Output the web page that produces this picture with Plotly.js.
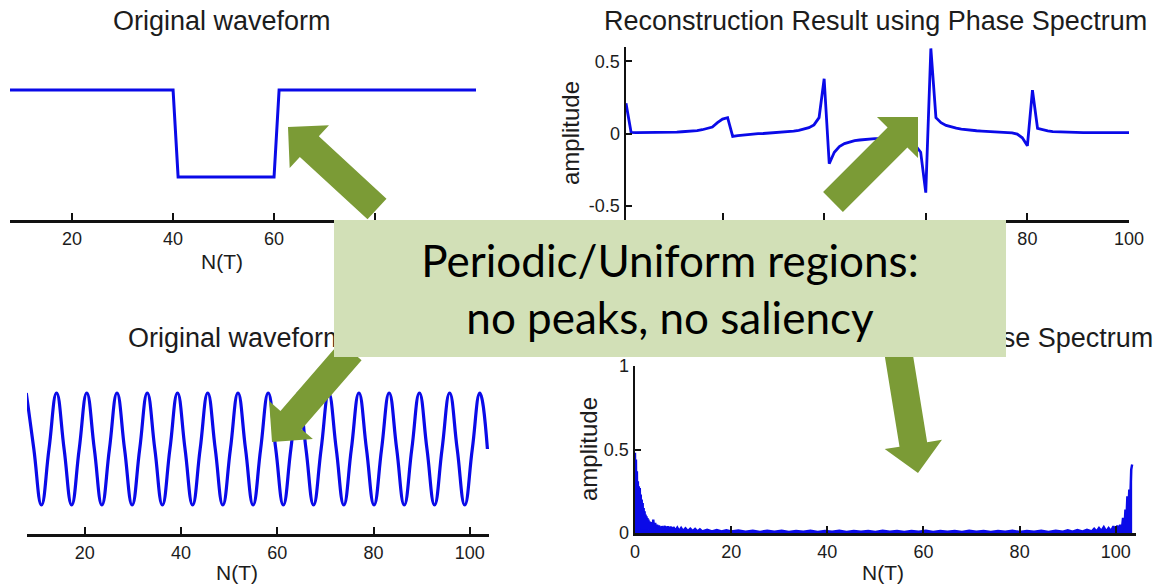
<!DOCTYPE html>
<html>
<head>
<meta charset="utf-8">
<script src="https://cdn.plot.ly/plotly-3.0.1.min.js"></script>
<style>html,body{margin:0;padding:0;background:#fff;}#chart{width:1159px;height:586px;}</style>
</head>
<body>
<div id="chart"></div>
<script>
// ---- data ----
// top-left: original step waveform
const stepN   = [1, 40, 41, 60, 61, 100];
const stepAmp = [1, 1, 0, 0, 1, 1];

// top-right: reconstruction using phase spectrum (samples 1..100)
const reconN = [1,2,3,4,5,6,7,8,9,10,11,12,13,14,15,16,17,18,19,20,
  21,22,23,24,25,26,27,28,29,30,31,32,33,34,35,36,37,38,39,40,
  41,42,43,44,45,46,47,48,49,50,51,52,53,54,55,56,57,58,59,60,
  61,62,63,64,65,66,67,68,69,70,71,72,73,74,75,76,77,78,79,80,
  81,82,83,84,85,86,87,88,89,90,91,92,93,94,95,96,97,98,99,100];
const reconAmp = [0.21,0.008,0.006,0.006,0.006,0.006,0.007,0.007,0.008,0.009,
  0.01,0.012,0.014,0.017,0.02,0.026,0.033,0.045,0.075,0.1,
  0.11,-0.02,-0.014,-0.01,-0.006,-0.003,-0.001,0.0,0.002,0.004,
  0.006,0.009,0.012,0.016,0.022,0.03,0.04,0.06,0.11,0.38,
  -0.21,-0.13,-0.09,-0.07,-0.058,-0.05,-0.045,-0.041,-0.038,-0.036,
  -0.035,-0.035,-0.035,-0.036,-0.038,-0.043,-0.055,-0.085,-0.13,-0.41,
  0.59,0.11,0.075,0.056,0.045,0.037,0.031,0.026,0.022,0.019,
  0.017,0.015,0.013,0.012,0.01,0.008,0.004,-0.004,-0.03,-0.085,
  0.3,0.035,0.025,0.018,0.013,0.011,0.009,0.008,0.007,0.007,
  0.006,0.006,0.006,0.006,0.006,0.006,0.006,0.006,0.006,0.006];

// bottom-left: periodic waveform (peaks, zero crossings, troughs)
const sineN = [7.85,9.42,11.0,12.57,14.14,15.71,17.28,18.85,20.42,21.99,
  23.56,25.13,26.70,28.27,29.85,31.42,32.99,34.56,36.13,37.70,
  39.27,40.84,42.41,43.98,45.55,47.12,48.69,50.27,51.84,53.41,
  54.98,56.55,58.12,59.69,61.26,62.83,64.40,65.97,67.54,69.12,
  70.69,72.26,73.83,75.40,76.97,78.54,80.11,81.68,83.25,84.82,
  86.39,87.96,89.54,91.11,92.68,94.25,95.82,97.39,98.96,100.53,
  102.10,103.67];
const sineAmp = [1,0,-1,0,1,0,-1,0,1,0,
  -1,0,1,0,-1,0,1,0,-1,0,
  1,0,-1,0,1,0,-1,0,1,0,
  -1,0,1,0,-1,0,1,0,-1,0,
  1,0,-1,0,1,0,-1,0,1,0,
  -1,0,1,0,-1,0,1,0,-1,0,
  1,0];

// bottom-right: reconstruction of the periodic waveform
const specN = [0,0.1,0.2,0.3,0.4,0.5,0.6,0.7,0.8,0.9,1.0,1.1,1.2,1.3,1.4,1.5,1.6,1.7,1.8,1.9,2.0,2.1,2.2,2.3,2.4,2.5,2.6,2.7,2.8,2.9,3.0,
  3.2,3.4,3.6,3.8,4.0,4.2,4.4,4.6,4.8,5.0,
  5.3,5.6,5.9,6.2,6.5,6.8,7.1,7.4,7.7,8.0,
  8.4,8.8,9.2,9.6,10,
  10.5,11,11.5,12,12.5,13,13.5,14,
  15,16,17,18,19,20,
  21.5,23,24.5,26,27.5,29,30.5,32,33.5,35,
  36.5,38,39.5,41,42.5,44,45.5,47,48.5,50,
  51.5,53,54.5,56,57.5,59,60.5,62,63.5,65,
  66.5,68,69.5,71,72.5,74,75.5,77,78.5,80,
  81.5,83,84.5,86,87.5,89,
  90,91,92,93,94,95,
  95.5,96,96.5,97,97.5,98,98.5,99,99.5,100,
  100.3,100.6,100.9,101.2,101.5,101.8,102.0,102.2,102.4,102.6,102.8,103.0,103.2,103.4];
const specAmp = [0.48,0.03,0.44,0.06,0.37,0.02,0.31,0.08,0.28,0.03,0.27,0.05,0.23,0.02,0.2,0.06,0.18,0.02,0.15,0.04,0.13,0.02,0.11,0.03,0.1,0.02,0.09,0.03,0.08,0.02,0.07,
  0.02,0.065,0.025,0.08,0.02,0.06,0.015,0.05,0.02,0.045,
  0.015,0.04,0.02,0.042,0.015,0.04,0.018,0.038,0.015,0.035,
  0.014,0.032,0.012,0.03,0.013,
  0.028,0.012,0.026,0.011,0.024,0.01,0.022,0.01,
  0.02,0.01,0.018,0.009,0.017,0.009,
  0.015,0.008,0.014,0.007,0.013,0.008,0.014,0.007,0.012,0.008,
  0.013,0.007,0.012,0.008,0.013,0.007,0.012,0.008,0.012,0.007,
  0.013,0.008,0.012,0.007,0.012,0.008,0.013,0.007,0.012,0.008,
  0.012,0.007,0.013,0.008,0.012,0.007,0.012,0.008,0.013,0.007,
  0.012,0.008,0.013,0.007,0.014,0.008,
  0.016,0.008,0.018,0.009,0.02,0.01,
  0.025,0.01,0.03,0.012,0.035,0.01,0.03,0.012,0.04,0.015,
  0.045,0.01,0.05,0.005,0.09,0.03,0.14,0.07,0.22,0.12,0.26,0.2,0.38,0.41];

// tick values and the labels that are visible (others sit under the note box)
const xTicksA = [20,40,60,80,100];
const xTickTextTopLeft = ['20','40','60','',''];
const xTickTextTopRight = ['','','','80','100'];
const xTickTextA = ['20','40','60','80','100'];
const xTicksB = [0,20,40,60,80,100];
const xTickTextB = ['0','20','40','60','80','100'];
const yTicksRecon = [-0.5,0,0.5];
const yTickTextRecon = ['-0.5','0','0.5'];
const yTicksSpec = [0,0.5,1];
const yTickTextSpec = ['0','0.5','1'];

const titleTop = 'Original waveform';
const titleRecon = 'Reconstruction Result using Phase Spectrum';
const boxText = 'Periodic/Uniform regions:<br>no peaks, no saliency';

// ---- layout helpers (pixel -> paper) ----
const W = 1159, H = 586;
const fx = x => x / W;
const fy = y => 1 - y / H;

const BLUE = '#0a0ae8';
const FONT = 'Liberation Sans, Arial, Helvetica, sans-serif';
const TXT = '#1c1c1c';

const traces = [
  {x: stepN, y: stepAmp, xaxis: 'x', yaxis: 'y', mode: 'lines', line: {color: BLUE, width: 3}},
  {x: reconN, y: reconAmp, xaxis: 'x2', yaxis: 'y2', mode: 'lines', line: {color: BLUE, width: 2.8}},
  {x: sineN, y: sineAmp, xaxis: 'x3', yaxis: 'y3', mode: 'lines', line: {color: BLUE, width: 3.2, shape: 'spline', smoothing: 1.3}},
  {x: specN, y: specAmp, xaxis: 'x4', yaxis: 'y4', mode: 'lines', fill: 'tozeroy', fillcolor: BLUE, line: {color: BLUE, width: 2.4}}
];

function xax(domain, range, anchor, tickvals, ticktext) {
  return {domain: domain, range: range, anchor: anchor, tickvals: tickvals, ticktext: ticktext,
    ticks: 'inside', ticklen: 7, tickwidth: 2, tickcolor: '#111',
    showline: true, linewidth: 3, linecolor: '#111',
    showgrid: false, zeroline: false, fixedrange: true,
    tickfont: {family: FONT, size: 18, color: TXT}};
}
function yax(domain, range, anchor, tickvals, ticktext, show) {
  return {domain: domain, range: range, anchor: anchor,
    tickvals: tickvals, ticktext: ticktext,
    ticks: show ? 'inside' : '', ticklen: 6, tickwidth: 2, tickcolor: '#111',
    showline: show, linewidth: 2.5, linecolor: '#111', showticklabels: show,
    showgrid: false, zeroline: false, fixedrange: true,
    tickfont: {family: FONT, size: 18, color: TXT}};
}

// arrow polygon (pixel geometry) -> paper path
function arrowPath(tip, tail, hw, hd, sw) {
  const dx = tail[0] - tip[0], dy = tail[1] - tip[1];
  const L = Math.hypot(dx, dy);
  const ux = dx / L, uy = dy / L;      // tip -> tail
  const nx = -uy, ny = ux;             // normal
  const bx = tip[0] + ux * hd, by = tip[1] + uy * hd;
  const pts = [
    [tail[0] + nx * sw, tail[1] + ny * sw],
    [bx + nx * sw, by + ny * sw],
    [bx + nx * hw, by + ny * hw],
    tip,
    [bx - nx * hw, by - ny * hw],
    [bx - nx * sw, by - ny * sw],
    [tail[0] - nx * sw, tail[1] - ny * sw]
  ];
  return 'M' + pts.map(p => fx(p[0]).toFixed(5) + ',' + fy(p[1]).toFixed(5)).join(' L') + ' Z';
}
const arrowSpecs = [
  {tip: [288, 127], tail: [377, 209]},
  {tip: [918, 117], tail: [833, 202]},
  {tip: [272, 442], tail: [351, 351]},
  {tip: [918, 473], tail: [896, 338]}
];
const shapes = arrowSpecs.map(a => ({
  type: 'path', xref: 'paper', yref: 'paper', layer: 'above',
  path: arrowPath(a.tip, a.tail, 29, 29, 14),
  fillcolor: '#7b9b36', line: {width: 0}
}));

function label(text, x, y, size, angle) {
  return {xref: 'paper', yref: 'paper', x: fx(x), y: fy(y), xanchor: 'center', yanchor: 'middle',
    text: text, showarrow: false, textangle: angle || 0,
    font: {family: FONT, size: size, color: TXT}};
}

const annotations = [
  label(titleTop, 222, 21, 27),
  label(titleRecon, 875, 21, 27),
  label(titleTop, 237, 338, 27),
  label(titleRecon, 881, 338, 27),
  label('N(T)', 222, 261, 21),
  label('N(T)', 237, 572, 21),
  label('N(T)', 883, 572, 21),
  label('amplitude', 571, 133, 24, -90),
  label('amplitude', 588, 449, 24, -90),
  {xref: 'paper', yref: 'paper', x: fx(670), y: fy(288.5), xanchor: 'center', yanchor: 'middle',
    width: 672, height: 137, bgcolor: '#d2e0b7', borderpad: 0, borderwidth: 0,
    showarrow: false, text: boxText, align: 'center', valign: 'middle',
    font: {family: 'Lato, Open Sans, sans-serif', size: 44, color: '#000'}}
];

const layout = {
  width: W, height: H,
  margin: {l: 0, r: 0, t: 0, b: 0, pad: 0},
  paper_bgcolor: '#fff', plot_bgcolor: '#fff',
  showlegend: false,
  xaxis:  xax([fx(10), fx(476)], [7.7, 100], 'y', xTicksA, xTickTextTopLeft),
  yaxis:  yax([fy(220), fy(47)], [-0.494, 1.494], 'x', null, null, false),
  xaxis2: xax([fx(626), fx(1129)], [1, 100], 'y2', xTicksA, xTickTextTopRight),
  yaxis2: yax([fy(220), fy(47)], [-0.6, 0.6], 'x2', yTicksRecon, yTickTextRecon, true),
  xaxis3: xax([fx(27), fx(489)], [8, 104], 'y3', xTicksA, xTickTextA),
  yaxis3: yax([fy(534), fy(365)], [-1.518, 1.5], 'x3', null, null, false),
  xaxis4: xax([fx(635), fx(1136)], [0, 104.2], 'y4', xTicksB, xTickTextB),
  yaxis4: yax([fy(533), fy(366)], [0, 1], 'x4', yTicksSpec, yTickTextSpec, true),
  shapes: shapes,
  annotations: annotations
};

Plotly.newPlot('chart', traces, layout, {displayModeBar: false, staticPlot: true});
</script>
</body>
</html>
